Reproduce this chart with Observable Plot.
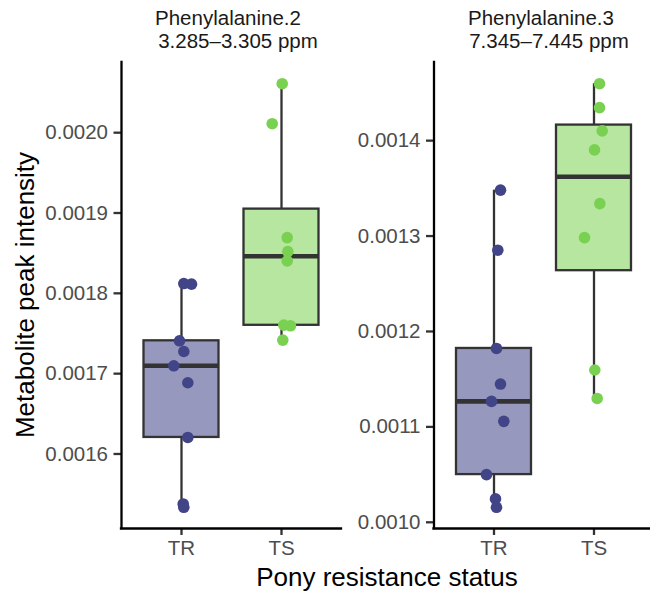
<!DOCTYPE html>
<html><head><meta charset="utf-8">
<script src="https://cdn.jsdelivr.net/npm/d3@7"></script>
<script src="https://cdn.jsdelivr.net/npm/@observablehq/plot@0.6"></script>
<style>
html,body{margin:0;padding:0;background:#fff;}
#chart{position:relative;width:650px;height:593px;overflow:hidden;font-family:"Liberation Sans",Arial,sans-serif;background:#fff;}
#chart > svg{position:absolute;top:0;}
</style></head><body><div id="chart"></div>
<script>
const categories = ["TR", "TS"];
const colors = ["#414487", "#7AD151"];
const panelTitles = ["Phenylalanine.2", "Phenylalanine.3"];
const panelRanges = ["3.285–3.305 ppm", "7.345–7.445 ppm"];
const xTitle = "Pony resistance status";
const yTitle = "Metabolite peak intensity";

// Phenylalanine.2 values
const p2TR = [0.0018122, 0.0018114, 0.0017409, 0.0017276, 0.0017098, 0.0016887, 0.0016206, 0.0015378, 0.0015336];
const p2TS = [0.0020610, 0.0020112, 0.0018694, 0.0018520, 0.0018404, 0.0017604, 0.0017596, 0.0017418];
// Phenylalanine.3 values
const p3TR = [0.0013481, 0.0012852, 0.0011822, 0.0011449, 0.0011267, 0.0011058, 0.0010500, 0.0010245, 0.0010157];
const p3TS = [0.0014597, 0.0014346, 0.0014102, 0.0013903, 0.0013340, 0.0012984, 0.0011596, 0.0011298];

// horizontal jitter offsets (category units)
const p2TRjit = [0.023, 0.10, -0.02, 0.023, -0.077, 0.063, 0.063, 0.017, 0.023];
const p2TSjit = [0.007, -0.093, 0.057, 0.063, 0.057, 0.023, 0.09, 0.013];
const p3TRjit = [0.065, 0.038, 0.025, 0.065, -0.025, 0.098, -0.075, 0.015, 0.025];
const p3TSjit = [0.055, 0.055, 0.082, 0.005, 0.058, -0.095, 0.008, 0.032];

const p2Ticks = [0.0016, 0.0017, 0.0018, 0.0019, 0.0020];
const p3Ticks = [0.0010, 0.0011, 0.0012, 0.0013, 0.0014];

const FONT = '"Liberation Sans", Arial, sans-serif';
const chart = document.getElementById("chart");

function panel(series, jitters, ticks, left, width, marginLeft, marginRight) {
  const rows = [];
  const stats = series.map((vals, k) => {
    vals.forEach((v, j) => rows.push({i: k + 1, v, jx: jitters[k][j], color: colors[k]}));
    const s = vals.slice().sort(d3.ascending);
    const q1 = d3.quantile(s, 0.25), med = d3.quantile(s, 0.5), q3 = d3.quantile(s, 0.75);
    const iqr = q3 - q1;
    const lo = d3.min(s.filter(v => v >= q1 - 1.5 * iqr));
    const hi = d3.max(s.filter(v => v <= q3 + 1.5 * iqr));
    return {x: k + 1, q1, med, q3, lo, hi, color: colors[k]};
  });
  const ext = d3.extent(rows, d => d.v);
  const pad = (ext[1] - ext[0]) * 0.05;
  const y0 = ext[0] - pad, y1 = ext[1] + pad;
  const grey = "#333333";
  const svg = Plot.plot({
    width, height: 593, marginLeft, marginRight, marginTop: 62, marginBottom: 65,
    style: {fontFamily: FONT, background: "transparent", overflow: "visible"},
    x: {domain: [0.4, 2.6], axis: null},
    y: {domain: [y0, y1], axis: null},
    color: {type: "identity"},
    marks: [
      Plot.ruleX(stats, {x: "x", y1: "q3", y2: "hi", stroke: grey, strokeWidth: 2.3}),
      Plot.ruleX(stats, {x: "x", y1: "lo", y2: "q1", stroke: grey, strokeWidth: 2.3}),
      Plot.rect(stats, {x1: d => d.x - 0.375, x2: d => d.x + 0.375, y1: "q1", y2: "q3",
        fill: "color", fillOpacity: 0.55, stroke: grey, strokeWidth: 2.3}),
      Plot.ruleY(stats, {y: "med", x1: d => d.x - 0.375, x2: d => d.x + 0.375, stroke: grey, strokeWidth: 4.6}),
      Plot.dot(rows, {x: d => d.i + d.jx, y: "v", r: 5.8, fill: "color", stroke: null}),
      Plot.axisY({ticks, tickFormat: d3.format(".4f"), tickSize: 7.5, tickPadding: 6,
        fontSize: 20.5, color: "#4d4d4d", stroke: grey, strokeWidth: 2.3, label: null}),
      Plot.axisX({ticks: [1, 2], tickFormat: d => categories[d - 1], tickSize: 7, tickPadding: 5,
        fontSize: 20.5, color: "#4d4d4d", stroke: grey, strokeWidth: 2.3, label: null}),
      Plot.ruleX([0.4], {y1: y0, y2: y1, stroke: "black", strokeWidth: 2.3, strokeLinecap: "square"}),
      Plot.ruleY([y0], {x1: 0.4, x2: 2.6, stroke: "black", strokeWidth: 2.3, strokeLinecap: "square"})
    ]
  });
  svg.style.left = left + "px";
  chart.appendChild(svg);
}

panel([p2TR, p2TS], [p2TRjit, p2TSjit], p2Ticks, 0, 345, 121, 4);
panel([p3TR, p3TS], [p3TRjit, p3TSjit], p3Ticks, 300, 360, 133.5, 6.5);

// titles overlay
const ov = d3.select(chart).append("svg")
  .attr("width", 650).attr("height", 593)
  .style("left", "0px").style("pointer-events", "none")
  .style("font-family", FONT);
const stripX = [[228, 238], [541, 549]];
panelTitles.forEach((t, k) => {
  ov.append("text").attr("x", stripX[k][0]).attr("y", 24.5).attr("text-anchor", "middle")
    .attr("font-size", 20.5).attr("fill", "#1a1a1a").text(t);
  ov.append("text").attr("x", stripX[k][1]).attr("y", 47.5).attr("text-anchor", "middle")
    .attr("font-size", 20.5).attr("fill", "#1a1a1a").text(panelRanges[k]);
});
ov.append("text").attr("x", 387).attr("y", 586).attr("text-anchor", "middle")
  .attr("font-size", 26).attr("fill", "#000").text(xTitle);
ov.append("text").attr("transform", "translate(34,295) rotate(-90)").attr("text-anchor", "middle")
  .attr("font-size", 26).attr("fill", "#000").text(yTitle);
</script></body></html>
